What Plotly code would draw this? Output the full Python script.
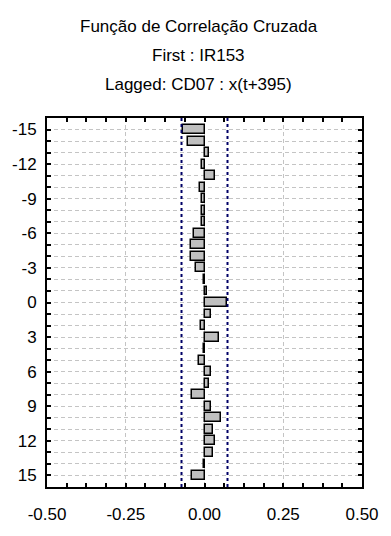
import plotly.graph_objects as go

# ---- data ----
lags = list(range(-15, 16))
ccf_values = [
    -0.069, -0.053, 0.015, -0.008, 0.033, -0.015, -0.007, -0.007, -0.008,
    -0.032, -0.044, -0.044, -0.026, -0.003, 0.008,
    0.071,
    0.021, -0.010, 0.046, -0.003, -0.017, 0.021, 0.015, -0.041, 0.021,
    0.051, 0.027, 0.033, 0.027, -0.003, -0.041,
]
conf_limit = 0.073

x_tick_vals = [-0.5, -0.25, 0.0, 0.25, 0.5]
x_tick_text = ["-0.50", "-0.25", "0.00", "0.25", "0.50"]
y_tick_vals = [-15, -12, -9, -6, -3, 0, 3, 6, 9, 12, 15]
y_tick_text = ["-15", "-12", "-9", "-6", "-3", "0", "3", "6", "9", "12", "15"]

title_lines = ["Função de Correlação Cruzada", "First : IR153", "Lagged: CD07 : x(t+395)"]

FONT = "Arial, Liberation Sans, sans-serif"
GRID = "#c4c4c4"

fig = go.Figure()
fig.add_trace(go.Bar(
    x=ccf_values, y=lags, orientation="h", width=0.77,
    marker=dict(color="#c0c0c0", line=dict(color="black", width=1.5)),
    showlegend=False, hoverinfo="skip",
))
for s in (-1, 1):
    fig.add_trace(go.Scatter(
        x=[s * conf_limit, s * conf_limit], y=[-16, 16], mode="lines",
        line=dict(color="#000066", width=2, dash="dot"),
        showlegend=False, hoverinfo="skip",
    ))

fig.update_layout(
    width=391, height=536,
    margin=dict(l=42, r=21, t=118, b=32, pad=0),
    paper_bgcolor="white", plot_bgcolor="white",
    font=dict(family=FONT, size=17, color="black"),
    bargap=0,
)
fig.update_xaxes(
    range=[-0.5, 0.5], tickmode="array", tickvals=x_tick_vals, ticktext=x_tick_text,
    showline=True, linecolor="black", linewidth=2, mirror="ticks",
    ticks="inside", ticklen=4, tickcolor="black", tickwidth=1.5,
    showgrid=True, gridcolor=GRID, griddash="4px,3px", gridwidth=1,
    minor=dict(dtick=0.0625, tick0=0, ticks="inside", ticklen=4, tickcolor="black",
               tickwidth=1.5, showgrid=False),
    zeroline=False, ticklabelstandoff=11,
    tickfont=dict(size=17),
)
fig.update_yaxes(
    range=[16, -16], tickmode="array", tickvals=y_tick_vals, ticktext=y_tick_text,
    showline=True, linecolor="black", linewidth=2, mirror="ticks",
    ticks="inside", ticklen=4, tickcolor="black", tickwidth=1.5,
    showgrid=True, gridcolor=GRID, griddash="4px,3px", gridwidth=1,
    minor=dict(dtick=1, tick0=0, ticks="inside", ticklen=4, tickcolor="black",
               tickwidth=1.5, showgrid=True, gridcolor=GRID, griddash="4px,3px", gridwidth=1),
    zeroline=False, ticklabelstandoff=5,
    tickfont=dict(size=17),
)

title_y = [1.2487, 1.1684, 1.0907]
for txt, yy in zip(title_lines, title_y):
    fig.add_annotation(text=txt, xref="paper", yref="paper", x=0.482, y=yy,
                       xanchor="center", yanchor="middle", showarrow=False,
                       font=dict(size=17, family=FONT, color="black"))

fig.write_html("out.html", config={"displayModeBar": False},
               post_script="document.body.style.margin='0';")
